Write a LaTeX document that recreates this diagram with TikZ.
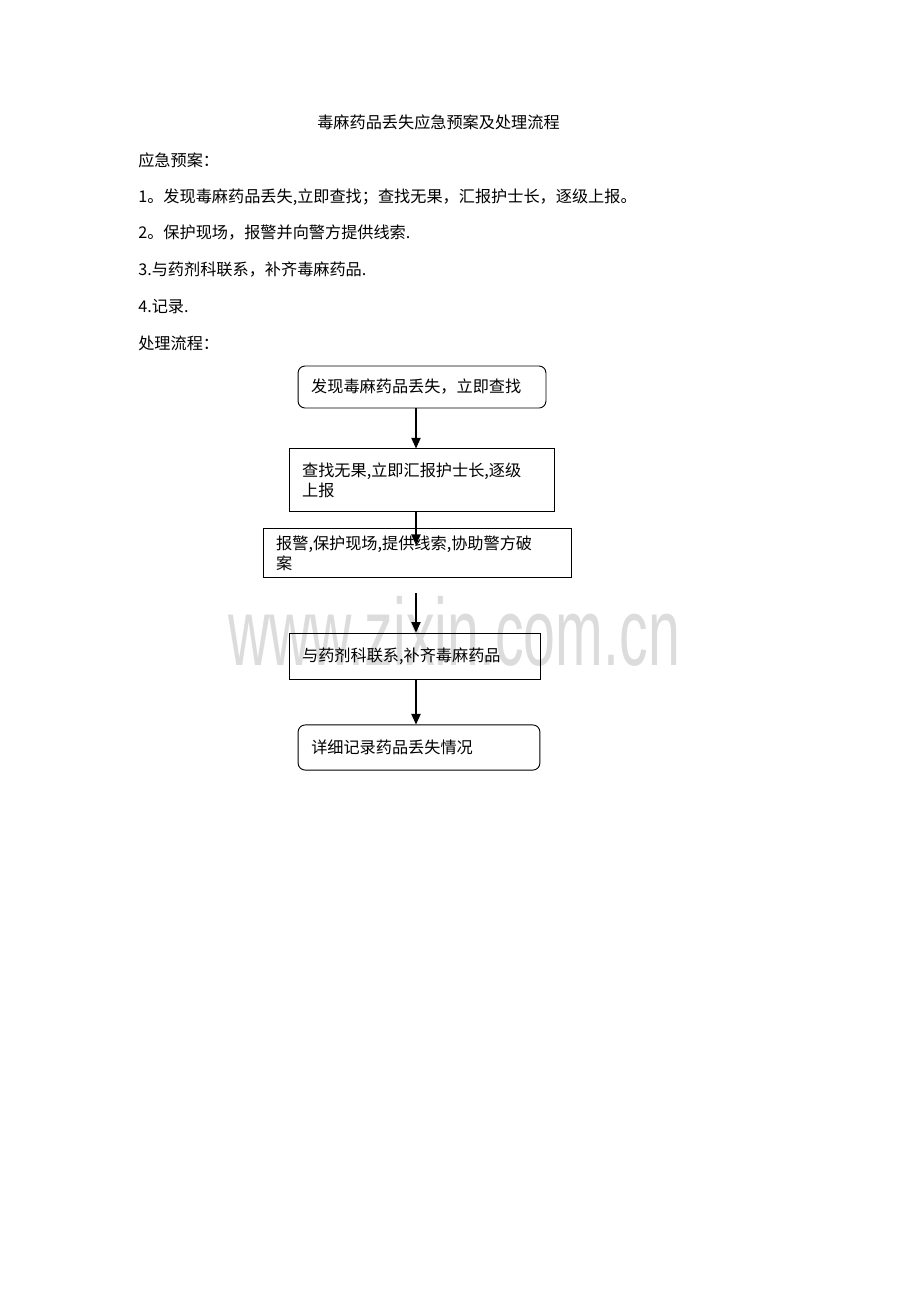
\documentclass[tikz,border=0pt]{standalone}
\usepackage{fontspec}
\setmainfont{Noto Sans CJK SC}
\newfontfamily\wmfont{Liberation Sans}
\usetikzlibrary{arrows.meta}
\definecolor{wmgray}{RGB}{220,220,220}
\tikzstyle{arrow} = [line width=0.8pt,->,>={Triangle[length=2.4mm,width=2.1mm]}]
\tikzstyle{stepbox} = [rectangle, draw=black, line width=0.6pt, inner xsep=3mm, inner ysep=0pt, align=left, font=\fontsize{10.5pt}{13pt}\selectfont]
\tikzstyle{roundbox} = [stepbox, rounded corners=1.6mm]
\tikzstyle{textline} = [anchor=west, inner sep=0pt, font=\fontsize{10.5pt}{13pt}\selectfont]

\begin{document}
\begin{tikzpicture}[x=0.2283mm, y=-0.2283mm]
\path[fill=white] (0,0) rectangle (920,1302);

% Watermark
\node (mark) [anchor=base, inner sep=0pt, text=wmgray, font=\wmfont\fontsize{62pt}{62pt}\selectfont] at (454,665) {\scalebox{0.6}[1]{www.zixin.com.cn}};

% Heading and plan
\node (title) [textline, anchor=center] at (438.5,122) {毒麻药品丢失应急预案及处理流程};
\node (plan) [textline] at (138,160) {应急预案：};
\node (item1) [textline] at (138,197) {1。发现毒麻药品丢失,立即查找；查找无果，汇报护士长，逐级上报。};
\node (item2) [textline] at (138,233) {2。保护现场，报警并向警方提供线索.};
\node (item3) [textline] at (138,270) {3.与药剂科联系，补齐毒麻药品.};
\node (item4) [textline] at (138,307) {4.记录.};
\node (flow) [textline] at (138,343) {处理流程：};

% Flow boxes
\node (find) [roundbox, minimum height=9.6mm, text width=50.6mm] at (422,387) {发现毒麻药品丢失，立即查找};
\node (report) [stepbox, minimum height=14.2mm, text width=54.5mm] at (421.5,480) {查找无果,立即汇报护士长,逐级\\上报};
\node (police) [stepbox, minimum height=11mm, text width=64.3mm] at (417,553) {报警,保护现场,提供线索,协助警方破\\案};
\node (supply) [stepbox, minimum height=10.7mm, text width=51.3mm] at (414.5,656.5) {与药剂科联系,补齐毒麻药品};
\node (record) [roundbox, minimum height=10.3mm, text width=49.2mm] at (419,747.5) {详细记录药品丢失情况};

% Connectors
\coordinate (spine) at (416,0);
\coordinate (tip3) at (416,545);
\coordinate (tail4) at (416,593);
\draw[arrow] (find.south -| spine) -- (report.north -| spine);
\draw[arrow] (report.south -| spine) -- (tip3);
\draw[arrow] (tail4) -- (supply.north -| spine);
\draw[arrow] (supply.south -| spine) -- (record.north -| spine);
\end{tikzpicture}
\end{document}
